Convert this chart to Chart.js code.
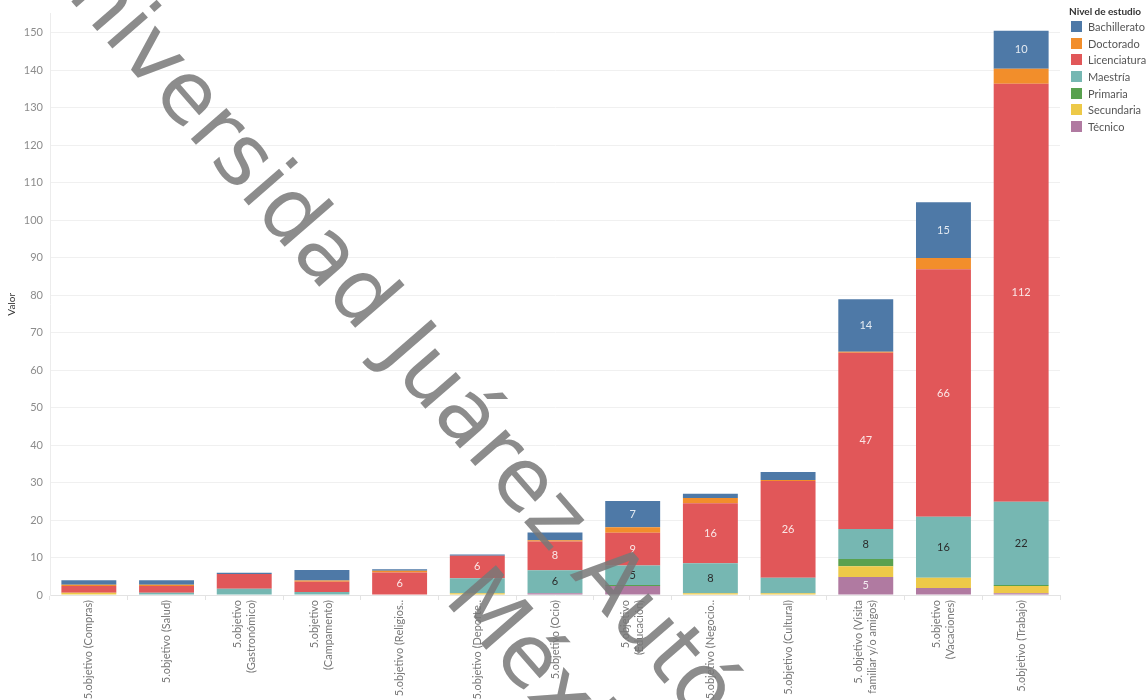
<!DOCTYPE html>
<html>
<head>
<meta charset="utf-8">
<script src="https://cdn.jsdelivr.net/npm/chart.js@4.4.0/dist/chart.umd.min.js"></script>
<style>
  body { margin: 0; background: #fff; }
  #wrap { position: relative; width: 1146px; height: 700px; overflow: hidden; font-family: Lato, sans-serif; }
  #legend { position: absolute; left: 1069px; top: 5px; font-size: 11px; color: #555; }
  #legend .title { font-size: 10px; font-weight: bold; color: #333; margin-bottom: 2px; }
  #legend .row { height: 16.7px; line-height: 16.7px; white-space: nowrap; }
  #legend .sw { display: inline-block; width: 11px; height: 11px; vertical-align: -1px; margin: 0 6px 0 2px; }
  .wm { position: absolute; transform-origin: 0 0; transform: rotate(49deg); font-family: 'DejaVu Sans', sans-serif;
        font-size: 86px; line-height: 1; color: rgba(120,120,120,0.85); white-space: nowrap; pointer-events: none; }
</style>
</head>
<body>
<div id="wrap">
  <canvas id="chart" width="1146" height="700"></canvas>
  <div id="legend"></div>
  <div class="wm" style="left:80px; top:-100px;">Universidad Juárez Autónoma de Tabasco</div>
  <div class="wm" style="left:498px; top:552px;">México</div>
</div>
<script>
// categories (x axis)
const categories = [
  '5.objetivo (Compras)',
  '5.objetivo (Salud)',
  ['5.objetivo', '(Gastronómico)'],
  ['5.objetivo', '(Campamento)'],
  '5.objetivo (Religios..',
  '5.objetivo (Deporte..',
  '5.objetivo (Ocio)',
  ['5.objetivo', '(Educación)'],
  '5.objetivo (Negocio..',
  '5.objetivo (Cultural)',
  ['5. objetivo (Visita', 'familiar y/o amigos)'],
  ['5.objetivo', '(Vacaciones)'],
  '5.objetivo (Trabajo)'
];

// series values, one per nivel de estudio
const tecnico      = [0,   0,   0,   0,   0,   0,   0.5, 2.4, 0,   0,    4.8, 1.9,  0.5];
const secundaria   = [0.6, 0,   0,   0,   0,   0.5, 0,   0,   0.5, 0.5,  2.9, 2.7,  1.9];
const primaria     = [0,   0,   0,   0,   0,   0,   0,   0.3, 0,   0,    1.9, 0,    0.3];
const maestria     = [0,   0.6, 1.7, 0.8, 0,   4,   6.1, 5.2, 8,   4.1,  8,   16.3, 22.2];
const licenciatura = [1.8, 1.8, 3.9, 2.75, 6,  6,   7.7, 8.7, 16,  25.8, 47,  66,   111.5];
const doctorado    = [0.35, 0.35, 0, 0.3, 0.5, 0,   0.3, 1.5, 1.4, 0.3,  0.3, 3,    4];
const bachillerato = [1.2, 1.2, 0.35, 2.8, 0.35, 0.3, 2.1, 7, 1.1, 2.1,  14,  14.9, 10.1];

// legend order (top to bottom)
const levelNames  = ['Bachillerato', 'Doctorado', 'Licenciatura', 'Maestría', 'Primaria', 'Secundaria', 'Técnico'];
const levelColors = ['#4e79a7', '#f28e2b', '#e15759', '#76b7b2', '#59a14f', '#edc948', '#b07aa1'];
const levelValues = [bachillerato, doctorado, licenciatura, maestria, primaria, secundaria, tecnico];

const yTicks = [0, 10, 20, 30, 40, 50, 60, 70, 80, 90, 100, 110, 120, 130, 140, 150];

// stack from bottom (Técnico) to top (Bachillerato)
const datasets = [];
for (let i = levelNames.length - 1; i >= 0; i--) {
  datasets.push({
    label: levelNames[i],
    data: levelValues[i],
    backgroundColor: levelColors[i],
    borderWidth: 0,
    barPercentage: 0.707,
    categoryPercentage: 1.0
  });
}

// numbers inside the bigger segments
const segmentLabels = {
  id: 'segmentLabels',
  afterDatasetsDraw(chart) {
    const ctx = chart.ctx;
    ctx.save();
    ctx.font = "11px Lato, sans-serif";
    ctx.textAlign = 'center';
    ctx.textBaseline = 'middle';
    chart.data.datasets.forEach((ds, i) => {
      const meta = chart.getDatasetMeta(i);
      meta.data.forEach((bar, j) => {
        const v = ds.data[j];
        if (v < 4.5) return;
        ctx.fillStyle = ds.label === 'Maestría' ? '#2b2b2b' : 'rgba(255,255,255,0.85)';
        ctx.fillText(String(Math.round(v)), bar.x, (bar.y + bar.base) / 2);
      });
    });
    ctx.restore();
  }
};

// vertical category labels, multi-line blocks centred on the tick
const xLabels = {
  id: 'xLabels',
  afterDraw(chart) {
    const xs = chart.scales.x, ctx = chart.ctx;
    ctx.save();
    ctx.font = "11px Lato, sans-serif";
    ctx.fillStyle = '#777';
    ctx.textAlign = 'right';
    ctx.textBaseline = 'middle';
    const lh = 14;
    categories.forEach((lab, i) => {
      const lines = Array.isArray(lab) ? lab : [lab];
      const x = xs.getPixelForTick(i);
      lines.forEach((t, k) => {
        const off = (k - (lines.length - 1) / 2) * lh;
        ctx.save();
        ctx.translate(x + off, xs.top + 5);
        ctx.rotate(-Math.PI / 2);
        ctx.fillText(t, 0, 0);
        ctx.restore();
      });
    });
    ctx.restore();
  }
};

new Chart(document.getElementById('chart'), {
  type: 'bar',
  data: { labels: categories, datasets: datasets },
  options: {
    responsive: false,
    animation: false,
    layout: { padding: { top: 3, right: 86, left: 0, bottom: 0 } },
    plugins: { legend: { display: false }, tooltip: { enabled: false } },
    scales: {
      x: {
        stacked: true,
        afterFit: (s) => { s.height = 105; },
        border: { color: '#e3e3e3' },
        grid: { drawOnChartArea: false, drawTicks: true, tickLength: 5, color: '#e3e3e3' },
        ticks: { display: false }
      },
      y: {
        stacked: true,
        min: 0,
        max: 155.1,
        afterFit: (s) => { s.width = 50; },
        afterBuildTicks: (s) => { s.ticks = yTicks.map(v => ({ value: v })); },
        border: { color: '#ececec' },
        grid: { color: '#f0f0f0', drawTicks: false },
        ticks: { padding: 7, color: '#8c8c8c', font: { family: "Lato, sans-serif", size: 11 } },
        title: { display: true, text: 'Valor', color: '#333', padding: 6, font: { family: "Lato, sans-serif", size: 10 } }
      }
    }
  },
  plugins: [segmentLabels, xLabels]
});

// html legend
const lg = document.getElementById('legend');
let html = '<div class="title">Nivel de estudio</div>';
levelNames.forEach((n, i) => {
  html += '<div class="row"><span class="sw" style="background:' + levelColors[i] + '"></span>' + n + '</div>';
});
lg.innerHTML = html;
</script>
</body>
</html>
